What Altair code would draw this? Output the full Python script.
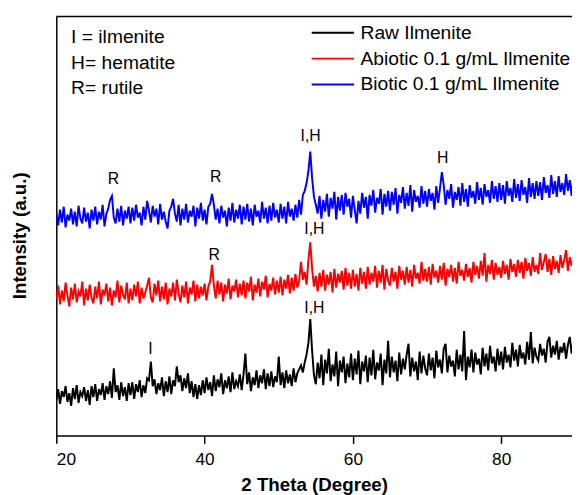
import altair as alt
import pandas as pd

FONT = "Liberation Sans"

series_names = ["Raw Ilmenite", "Abiotic 0.1 g/mL Ilmenite", "Biotic 0.1 g/mL Ilmenite"]
series_colors = ["#000000", "#ff0000", "#0000ff"]

theta_start = 20.0
theta_step = 0.25

raw = [
    30, 41, 26, 39, 33, 44, 28, 37, 24, 42, 31, 45, 27, 38, 34, 43, 29, 40, 25, 44,
    33, 46, 29, 41, 35, 47, 30, 44, 36, 49, 32, 62, 38, 45, 30, 48, 34, 43, 29, 47,
    35, 48, 31, 46, 38, 50, 33, 45, 37, 52, 50, 69, 44, 51, 36, 47, 40, 53, 34, 49,
    38, 54, 36, 50, 44, 64, 48, 55, 39, 52, 42, 57, 37, 49, 33, 46, 31, 45, 35, 50,
    37, 53, 40, 48, 34, 55, 39, 51, 43, 57, 36, 50, 42, 54, 38, 58, 41, 49, 44, 56,
    40, 56, 77, 46, 58, 39, 53, 45, 60, 42, 55, 47, 61, 41, 57, 44, 59, 43, 54, 48,
    74, 45, 58, 42, 60, 47, 56, 44, 62, 48, 57, 61, 65, 58, 68, 76, 88, 112, 80, 55,
    46, 68, 52, 76, 45, 71, 57, 82, 49, 66, 54, 79, 44, 70, 58, 74, 47, 67, 53, 77,
    50, 72, 56, 80, 46, 69, 59, 75, 48, 73, 55, 81, 51, 68, 60, 77, 45, 71, 57, 90,
    53, 74, 58, 70, 49, 78, 56, 72, 61, 76, 87, 54, 73, 59, 69, 50, 79, 57, 75, 62,
    55, 77, 60, 73, 52, 80, 63, 71, 57, 82, 87, 58, 75, 64, 70, 54, 81, 61, 76, 59,
    100, 50, 74, 63, 81, 58, 78, 66, 72, 56, 83, 64, 77, 60, 85, 67, 74, 59, 82, 65,
    79, 61, 84, 68, 76, 63, 88, 70, 81, 64, 86, 72, 78, 66, 89, 71, 99, 67, 83, 74,
    70, 87, 75, 82, 68, 89, 94, 73, 85, 76, 90, 71, 84, 78, 88, 72, 86, 94, 77, 91,
    80,
]

abiotic = [
    133, 146, 127, 141, 130, 149, 136, 125, 144, 132, 148, 129, 140, 135, 150, 126, 143, 131, 147, 134,
    128, 145, 133, 150, 127, 142, 136, 148, 130, 144, 126, 141, 134, 151, 129, 146, 137, 132, 149, 128,
    143, 131, 147, 135, 150, 128, 144, 133, 139, 146, 154, 134, 129, 148, 136, 151, 130, 145, 132, 149,
    127, 143, 135, 149, 131, 152, 138, 129, 146, 134, 150, 128, 144, 137, 151, 130, 147, 133, 145, 136,
    148, 131, 145, 150, 167, 146, 133, 151, 137, 149, 130, 147, 138, 153, 132, 146, 140, 152, 134, 148,
    136, 151, 133, 149, 140, 155, 131, 147, 139, 153, 135, 150, 142, 156, 134, 148, 141, 154, 137, 151,
    139, 155, 136, 152, 143, 157, 138, 154, 141, 158, 144, 151, 170, 152, 160, 147, 172, 190, 163, 145,
    156, 140, 159, 145, 162, 141, 157, 147, 160, 139, 163, 144, 158, 149, 161, 142, 164, 146, 159, 143,
    162, 145, 158, 141, 164, 148, 160, 143, 165, 147, 159, 150, 166, 144, 161, 149, 167, 142, 163, 151,
    146, 164, 150, 160, 143, 166, 152, 161, 147, 165, 149, 162, 145, 167, 153, 159, 148, 170, 151, 163,
    150, 165, 147, 168, 154, 161, 149, 166, 152, 169, 146, 163, 155, 167, 150, 164, 148, 170, 156, 162,
    151, 168, 155, 164, 149, 170, 157, 166, 153, 171, 156, 179, 150, 167, 158, 172, 152, 169, 157, 165,
    154, 171, 158, 167, 152, 173, 160, 168, 155, 172, 159, 170, 153, 174, 161, 169, 156, 175, 160, 167,
    158, 179, 162, 170, 178, 160, 173, 157, 176, 163, 171, 159, 177, 164, 172, 182, 161, 175, 166, 173,
    168,
]

biotic = [
    219, 207, 223, 210, 226, 205, 218, 212, 224, 208, 221, 206, 227, 214, 209, 225, 211, 220, 204, 223,
    212, 226, 208, 221, 213, 228, 206, 219, 224, 233, 237, 215, 209, 224, 211, 227, 207, 222, 214, 226,
    209, 225, 212, 228, 215, 220, 207, 226, 213, 232, 222, 210, 227, 216, 224, 208, 229, 213, 221, 211,
    204, 222, 226, 234, 219, 211, 228, 207, 224, 213, 229, 210, 222, 216, 227, 206, 225, 214, 230, 212,
    223, 208, 226, 229, 239, 228, 213, 224, 209, 227, 215, 222, 206, 225, 212, 230, 210, 223, 214, 228,
    208, 226, 213, 229, 211, 224, 207, 228, 216, 222, 210, 231, 214, 225, 209, 227, 212, 230, 215, 223,
    210, 229, 214, 226, 209, 231, 216, 224, 212, 228, 215, 233, 218, 238, 242, 250, 262, 282, 255, 236,
    228, 219, 237, 214, 233, 221, 239, 216, 235, 224, 241, 213, 236, 222, 238, 218, 240, 226, 234, 215,
    237, 223, 209, 232, 219, 240, 225, 236, 214, 238, 227, 243, 220, 235, 229, 244, 218, 239, 226, 242,
    222, 241, 228, 245, 219, 238, 230, 246, 224, 240, 227, 248, 221, 243, 231, 237, 225, 247, 229, 242,
    226, 244, 232, 240, 223, 247, 230, 245, 261, 248, 228, 243, 234, 249, 225, 241, 233, 246, 227, 250,
    231, 244, 226, 248, 235, 242, 229, 251, 233, 245, 228, 249, 236, 243, 230, 252, 234, 247, 231, 250,
    233, 248, 229, 252, 237, 245, 231, 254, 235, 249, 232, 253, 238, 246, 230, 255, 236, 250, 234, 252,
    237, 251, 233, 256, 240, 248, 235, 258, 239, 252, 236, 257, 241, 250, 238, 259, 242, 253, 237, 256,
    244,
]

# peak labels (2-theta, intensity)
ann_labels = ["R", "R", "I,H", "H", "R", "I,H", "I", "I,H"]
ann_theta = [27.7, 41.5, 54.3, 72.1, 41.3, 54.8, 32.7, 54.8]
ann_intensity = [254, 256, 298, 275, 177, 203, 82, 123]

key_texts = ["I = ilmenite", "H= hematite", "R= rutile"]

rows = []
for name, vals in zip(series_names, [raw, abiotic, biotic]):
    for i, v in enumerate(vals):
        rows.append({"theta": theta_start + theta_step * i, "intensity": v, "sample": name})
df = pd.DataFrame(rows)

ann_df = pd.DataFrame({"theta": ann_theta, "intensity": ann_intensity, "label": ann_labels})

W, H = 523, 425

x_enc = alt.X(
    "theta:Q",
    scale=alt.Scale(domain=[20, 89.55], nice=False, zero=False),
    axis=alt.Axis(
        values=[20, 40, 60, 80], title="2 Theta (Degree)", grid=False,
        tickSize=8, tickWidth=1.5, tickColor="black",
        domainColor="black", domainWidth=1.5,
        labelFont=FONT, labelFontSize=17.5, labelColor="black", labelPadding=7,
        titleFont=FONT, titleFontSize=19, titleFontWeight="bold", titleColor="black",
        titlePadding=8,
    ),
)
y_enc = alt.Y(
    "intensity:Q",
    scale=alt.Scale(domain=[-6, 419], nice=False, zero=False),
    axis=alt.Axis(
        title="Intensity (a.u.)", labels=False, ticks=False, grid=False,
        domainColor="black", domainWidth=1.5,
        titleFont=FONT, titleFontSize=19, titleFontWeight="bold", titleColor="black",
        titlePadding=27, titleY=222,
    ),
)

lines = alt.Chart(df).mark_line(strokeWidth=2.0, clip=True).encode(
    x=x_enc,
    y=y_enc,
    color=alt.Color("sample:N", scale=alt.Scale(domain=series_names, range=series_colors), legend=None),
)

ann = alt.Chart(ann_df).mark_text(font=FONT, fontSize=16, color="black", baseline="middle", align="center").encode(
    x=x_enc, y=y_enc, text="label:N"
)

empty = alt.Data(values=[{}])
layers = [lines, ann]

for i, (name, col) in enumerate(zip(series_names, series_colors)):
    yy = 16.6 + 26.2 * i
    layers.append(
        alt.Chart(empty).mark_rule(strokeWidth=2).encode(
            x=alt.value(259), x2=alt.value(302), y=alt.value(yy), color=alt.value(col)
        )
    )
    layers.append(
        alt.Chart(empty).mark_text(font=FONT, fontSize=19.5, color="black", align="left", baseline="middle").encode(
            x=alt.value(308.5), y=alt.value(yy), text=alt.value(name)
        )
    )

for i, t in enumerate(key_texts):
    layers.append(
        alt.Chart(empty).mark_text(font=FONT, fontSize=19.5, color="black", align="left", baseline="middle").encode(
            x=alt.value(15), y=alt.value(21 + 26 * i), text=alt.value(t)
        )
    )

layers.append(
    alt.Chart(empty).mark_rule(strokeWidth=1.5, color="black").encode(
        x=alt.value(0), x2=alt.value(W), y=alt.value(0)
    )
)

chart = alt.layer(*layers).properties(
    width=W, height=H,
    autosize=alt.AutoSizeParams(type="none"),
    padding={"left": 49, "top": 5, "right": 0, "bottom": 70},
    background="white",
).configure_view(stroke=None)

chart.save("out.html", embed_options={"renderer": "svg", "actions": False})
